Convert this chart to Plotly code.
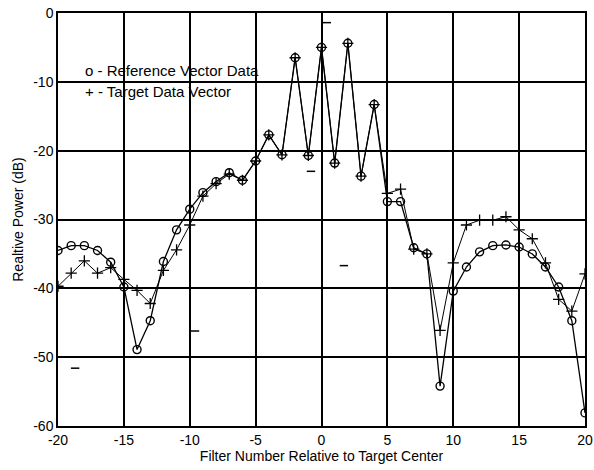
import plotly.graph_objects as go

filters = list(range(-20, 21))
reference_db = [-34.5, -33.8, -33.8, -34.5, -36.2, -39.8, -48.9, -44.7, -36.1, -31.5,
                -28.5, -26.1, -24.5, -23.2, -24.3, -21.5, -17.7, -20.6, -6.5, -20.7,
                -5.0, -21.8, -4.4, -23.7, -13.3, -27.4, -27.4, -34.1, -35.0, -54.2,
                -40.4, -36.9, -34.7, -33.8, -33.7, -34.0, -35.0, -36.9, -39.8, -44.7, -58.1]
target_db = [-39.7, -37.8, -36.0, -37.8, -37.0, -38.7, -40.3, -42.2, -37.4, -34.4,
             -30.8, -26.6, -24.8, -23.4, -24.3, -21.5, -17.7, -20.6, -6.5, -20.7,
             -5.0, -21.8, -4.4, -23.7, -13.3, -26.2, -25.6, -34.3, -35.0, -46.1,
             -36.3, -30.8, -30.1, -30.1, -29.6, -31.5, -32.8, -36.3, -41.6, -43.3, -37.9]
stray_x = [-18.7, -9.6, -0.8, 0.4, 1.7]
stray_db = [-51.6, -46.2, -23.0, -1.4, -36.7]

x_ticks = [-20, -15, -10, -5, 0, 5, 10, 15, 20]
y_ticks = [0, -10, -20, -30, -40, -50, -60]
legend_lines = ["o - Reference Vector Data", "+ - Target Data Vector"]

FONT = "Liberation Sans, Arial, sans-serif"

fig = go.Figure()
fig.add_trace(go.Scatter(
    x=filters, y=target_db, mode="lines+markers",
    line=dict(color="black", width=1),
    marker=dict(symbol="cross-thin-open", size=8, color="black",
                line=dict(color="black", width=1.3)),
    showlegend=False))
fig.add_trace(go.Scatter(
    x=filters, y=reference_db, mode="lines+markers",
    line=dict(color="black", width=1.3),
    marker=dict(symbol="circle-open", size=8, color="black",
                line=dict(color="black", width=1.4)),
    showlegend=False))
fig.add_trace(go.Scatter(
    x=stray_x, y=stray_db, mode="markers",
    marker=dict(symbol="line-ew-open", size=6, color="black",
                line=dict(color="black", width=1.5)),
    showlegend=False))

ys = [-8.3, -11.4]
for txt, yv in zip(legend_lines, ys):
    fig.add_annotation(x=-18.1, y=yv, xref="x", yref="y", text=txt, showarrow=False,
                       xanchor="left", yanchor="middle",
                       font=dict(family=FONT, size=15, color="black"))

fig.update_xaxes(range=[-20, 20], tickvals=x_ticks, ticktext=[str(v) for v in x_ticks],
                 showgrid=True, gridcolor="black", gridwidth=1.5,
                 showline=True, linecolor="black", linewidth=1.5, mirror=True,
                 zeroline=False, ticks="", automargin=False,
                 tickfont=dict(family=FONT, size=14, color="black"),
                 title=dict(text="Filter Number Relative to Target Center",
                            font=dict(family=FONT, size=14, color="black"), standoff=2))
fig.update_yaxes(range=[-60, 0], tickvals=y_ticks, ticktext=[str(v) for v in y_ticks],
                 showgrid=True, gridcolor="black", gridwidth=1.5,
                 showline=True, linecolor="black", linewidth=1.5, mirror=True,
                 zeroline=False, ticks="", automargin=False,
                 tickfont=dict(family=FONT, size=14, color="black"),
                 title=dict(text="Realtive Power (dB)",
                            font=dict(family=FONT, size=14, color="black"), standoff=6))
fig.update_layout(width=594, height=470, margin=dict(l=58, r=9, t=13, b=44),
                  paper_bgcolor="white", plot_bgcolor="white")
fig.write_html("out.html")
